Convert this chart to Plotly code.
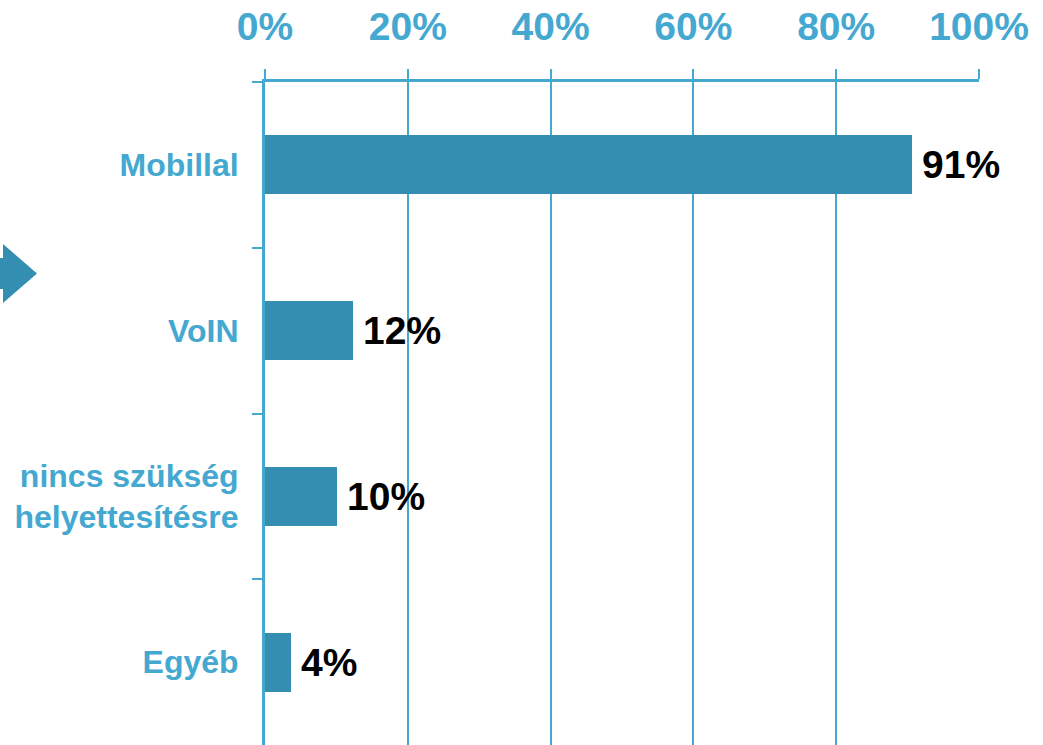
import plotly.graph_objects as go

categories = ["Mobillal", "VoIN", "nincs szükség<br>helyettesítésre", "Egyéb"]
values = [90.6, 12.3, 10.1, 3.6]
labels = ["91%", "12%", "10%", "4%"]
tick_vals = [0, 20, 40, 60, 80, 100]
tick_text = ["0%", "20%", "40%", "60%", "80%", "100%"]

BAR = "#348EB1"
AX = "#44A8D0"
W, H = 1043, 745
L, R, T, B = 265, 64, 82, 0

fig = go.Figure()
fig.add_trace(go.Bar(
    x=values, y=categories, orientation="h",
    marker=dict(color=BAR, line=dict(width=0)),
    width=0.355, hoverinfo="skip",
))

for v, c, t in zip(values, categories, labels):
    fig.add_annotation(x=v, y=c, text=t, showarrow=False, xanchor="left",
                       xshift=8, font=dict(family="Liberation Sans, Arial", size=39,
                                           color="#000000", weight="bold"))

# arrow on the left edge (pixel -> paper coords)
def px(x):
    return (x - L) / (W - L - R)

def py(y):
    return (H - B - y) / (H - T - B)

pts = [(-2, 258), (3, 258), (3, 244), (37, 273.5), (3, 303), (3, 289), (-2, 289)]
path = "M " + " L ".join(f"{px(x):.5f},{py(y):.5f}" for x, y in pts) + " Z"
fig.add_shape(type="path", path=path, xref="paper", yref="paper",
              fillcolor=BAR, line=dict(width=0), layer="above")

fig.update_layout(
    width=W, height=H,
    margin=dict(l=L, r=R, t=T, b=B, pad=0, autoexpand=False),
    paper_bgcolor="white", plot_bgcolor="white",
    showlegend=False, bargap=0,
    font=dict(family="Liberation Sans, Arial", color=AX),
    xaxis=dict(
        side="top", range=[0, 100], tickvals=tick_vals, ticktext=tick_text,
        showgrid=True, gridcolor=AX, gridwidth=2,
        showline=True, linecolor=AX, linewidth=3,
        ticks="outside", ticklen=10, tickcolor=AX, tickwidth=2,
        tickfont=dict(size=39, color=AX, weight="bold"),
        ticklabelstandoff=13, zeroline=False, fixedrange=True, automargin=False,
    ),
    yaxis=dict(
        type="category", range=[3.5, -0.5], categoryorder="array", categoryarray=categories,
        showgrid=False, showline=True, linecolor=AX, linewidth=3,
        ticks="outside", tickson="boundaries", ticklen=10, tickcolor=AX, tickwidth=2,
        tickfont=dict(size=32, color=AX, weight="bold"),
        ticklabelstandoff=17, zeroline=False, fixedrange=True, automargin=False,
    ),
)

fig.write_html("out.html", config={"displayModeBar": False},
               post_script="document.body.style.margin='0px';document.body.style.overflow='hidden';")
